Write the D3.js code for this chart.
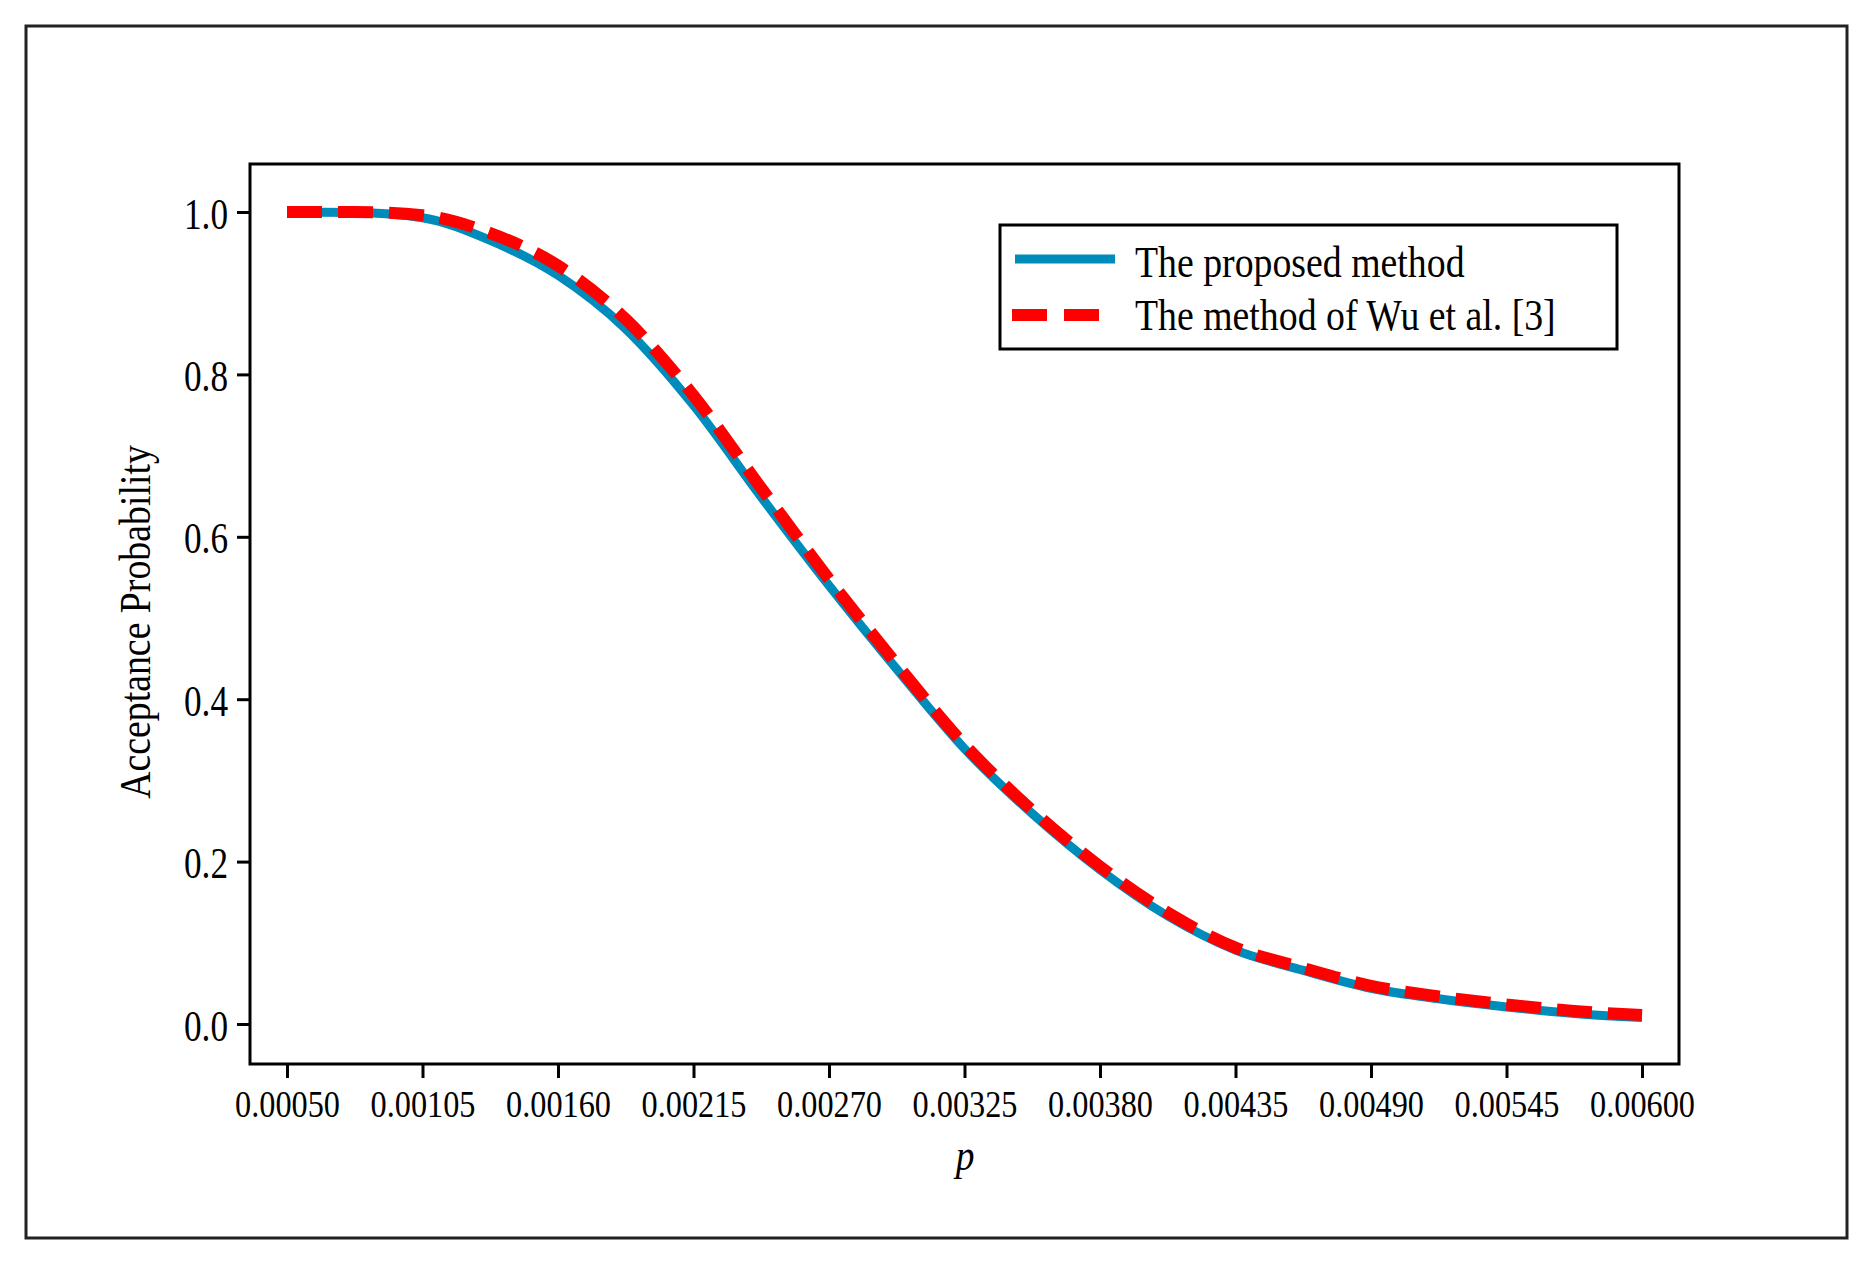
<!DOCTYPE html>
<html>
<head>
<meta charset="utf-8">
<script src="https://cdn.jsdelivr.net/npm/d3@7"></script>
<style>
  body { margin: 0; background: #fff; }
  text { font-family: "Liberation Serif", "Times New Roman", serif; fill: #000; }
</style>
</head>
<body>
<svg id="chart" width="1873" height="1265"></svg>
<script>
// p values where the curves were read
const pValues = [0.0005, 0.000775, 0.00105, 0.001325, 0.0016, 0.001875, 0.00215,
  0.002425, 0.0027, 0.002975, 0.00325, 0.003525, 0.0038, 0.004075, 0.00435,
  0.004625, 0.0049, 0.005175, 0.00545, 0.005725, 0.006];

// The proposed method
const proposed = [1.000, 0.9995, 0.993, 0.965, 0.922, 0.856, 0.762, 0.649, 0.540,
  0.437, 0.339, 0.259, 0.190, 0.133, 0.091, 0.066, 0.044, 0.031, 0.021, 0.013, 0.008];

// The method of Wu et al. [3]
const wuMethod = [1.000, 1.000, 0.996, 0.974, 0.934, 0.868, 0.774, 0.660, 0.548,
  0.443, 0.344, 0.263, 0.194, 0.137, 0.094, 0.069, 0.047, 0.034, 0.024, 0.016, 0.011];

const xTicks = [0.0005, 0.00105, 0.0016, 0.00215, 0.0027, 0.00325, 0.0038,
  0.00435, 0.0049, 0.00545, 0.006];
const yTicks = [0, 0.2, 0.4, 0.6, 0.8, 1.0];

const seriesNames = ["The proposed method", "The method of Wu et al. [3]"];

const svg = d3.select("#chart");

// outer border
svg.append("rect")
  .attr("x", 26).attr("y", 26)
  .attr("width", 1821).attr("height", 1212)
  .attr("fill", "none")
  .attr("stroke", "#222")
  .attr("stroke-width", 3);

const x = d3.scaleLinear().domain([0.0005, 0.006]).range([287, 1642]);
const y = d3.scaleLinear().domain([0, 1]).range([1024, 212]);

// x axis
let xAxis = svg.append("g")
  .attr("transform", "translate(0,1064)")
  .call(d3.axisBottom(x).tickValues(xTicks).tickSize(14).tickSizeOuter(0)
    .tickFormat(d3.format(".5f")));
xAxis.select(".domain").remove();
xAxis.selectAll(".tick line").attr("stroke", "#000").attr("stroke-width", 3);
xAxis.selectAll(".tick text")
  .attr("y", 0).attr("dy", 0)
  .attr("transform", "translate(0,53) scale(0.85,1)")
  .style("font-size", "38px");

// y axis
let yAxis = svg.append("g")
  .attr("transform", "translate(250,0)")
  .call(d3.axisLeft(y).tickValues(yTicks).tickSize(13).tickSizeOuter(0)
    .tickFormat(d3.format(".1f")));
yAxis.select(".domain").remove();
yAxis.selectAll(".tick line").attr("stroke", "#000").attr("stroke-width", 3);
yAxis.selectAll(".tick text")
  .attr("x", 0).attr("dy", 0).attr("y", 0)
  .attr("text-anchor", "end")
  .attr("transform", "translate(-22,16) scale(0.8,1)")
  .style("font-size", "44px");

// plot frame
svg.append("rect")
  .attr("x", 250).attr("y", 164)
  .attr("width", 1429).attr("height", 900)
  .attr("fill", "none")
  .attr("stroke", "#000")
  .attr("stroke-width", 3);

// axis titles
svg.append("text")
  .attr("transform", "translate(150,622) rotate(-90) scale(0.84,1)")
  .attr("text-anchor", "middle")
  .style("font-size", "45px")
  .text("Acceptance Probability");

svg.append("text")
  .attr("transform", "translate(965,1170) scale(0.85,1)")
  .attr("text-anchor", "middle")
  .style("font-size", "44px")
  .style("font-style", "italic")
  .text("p");

// curves
const line = d3.line()
  .x(d => x(d[0]))
  .y(d => y(d[1]))
  .curve(d3.curveMonotoneX);

svg.append("path")
  .datum(pValues.map((p, i) => [p, proposed[i]]))
  .attr("d", line)
  .attr("fill", "none")
  .attr("stroke", "#008cba")
  .attr("stroke-width", 9);

svg.append("path")
  .datum(pValues.map((p, i) => [p, wuMethod[i]]))
  .attr("d", line)
  .attr("fill", "none")
  .attr("stroke", "#ff0000")
  .attr("stroke-width", 12)
  .attr("stroke-dasharray", "35,16");

// legend
let legend = svg.append("g");
legend.append("rect")
  .attr("x", 1000).attr("y", 225)
  .attr("width", 617).attr("height", 124)
  .attr("fill", "#fff")
  .attr("stroke", "#000")
  .attr("stroke-width", 3);

legend.append("line")
  .attr("x1", 1015).attr("x2", 1115)
  .attr("y1", 259).attr("y2", 259)
  .attr("stroke", "#008cba")
  .attr("stroke-width", 9);

legend.append("line")
  .attr("x1", 1012).attr("x2", 1115)
  .attr("y1", 315).attr("y2", 315)
  .attr("stroke", "#ff0000")
  .attr("stroke-width", 12)
  .attr("stroke-dasharray", "35,17");

legend.selectAll("text.lab")
  .data(seriesNames)
  .enter()
  .append("text")
  .attr("class", "lab")
  .attr("transform", (d, i) => `translate(1135,${277 + i * 53}) scale(0.84,1)`)
  .style("font-size", "45px")
  .text(d => d);
</script>
</body>
</html>
